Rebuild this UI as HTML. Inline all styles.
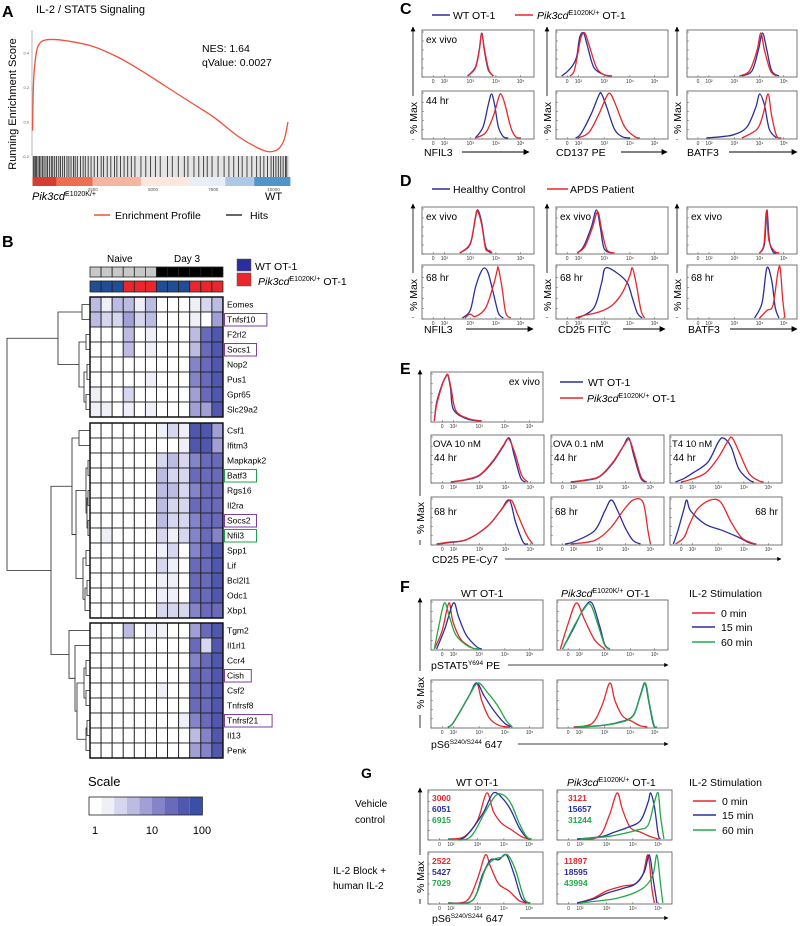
<!DOCTYPE html>
<html><head><meta charset="utf-8"><style>
body{margin:0;background:#fff}
svg{display:block;font-family:"Liberation Sans",Arial,sans-serif}
</style></head><body>
<svg id="fig" width="800" height="926" viewBox="0 0 800 926" xmlns="http://www.w3.org/2000/svg">
<defs><marker id="ah" viewBox="0 0 10 10" refX="9" refY="5" markerWidth="6" markerHeight="6" orient="auto"><path d="M0,0 L10,5 L0,10 z" fill="#000"/></marker></defs>
<!-- Panel A -->
<text x="2" y="17" font-size="16" font-weight="bold">A</text>
<text x="36" y="13" font-size="11">IL-2 / STAT5 Signaling</text>
<text transform="translate(16,104) rotate(-90)" text-anchor="middle" font-size="11">Running Enrichment Score</text>
<text x="202" y="52" font-size="10.5">NES: 1.64</text>
<text x="202" y="66" font-size="10.5">qValue: 0.0027</text>
<text x="32" y="200" font-size="11"><tspan font-style="italic">Pik3cd</tspan><tspan font-size="7" dy="-4">E1020K/+</tspan></text>
<text x="265" y="200" font-size="11">WT</text>
<line x1="94" y1="215" x2="110" y2="215" stroke="#f0503a" stroke-width="1.5"/>
<text x="115" y="219" font-size="10.5">Enrichment Profile</text>
<line x1="226" y1="215" x2="242" y2="215" stroke="#333" stroke-width="1.5"/>
<text x="250" y="219" font-size="10.5">Hits</text>
<!-- Panel B -->
<text x="2" y="247" font-size="16" font-weight="bold">B</text>
<text x="107" y="262" font-size="10">Naive</text>
<text x="174" y="262" font-size="10">Day 3</text>
<rect x="237" y="259" width="14" height="12" fill="#2b2f9e" stroke="#555" stroke-width="0.5"/>
<text x="255" y="270" font-size="10.5">WT OT-1</text>
<rect x="237" y="273" width="14" height="13" fill="#e8262b" stroke="#555" stroke-width="0.5"/>
<text x="258" y="285" font-size="10.5"><tspan font-style="italic">Pik3cd</tspan><tspan font-size="7" dy="-4">E1020K/+</tspan><tspan dy="4"> OT-1</tspan></text>
<text x="88" y="786" font-size="13">Scale</text>
<text x="95" y="834" font-size="11" text-anchor="middle">1</text>
<text x="152" y="834" font-size="11" text-anchor="middle">10</text>
<text x="202" y="834" font-size="11" text-anchor="middle">100</text>
<!-- Panel C -->
<text x="400" y="14" font-size="16" font-weight="bold">C</text>
<line x1="432" y1="15" x2="450" y2="15" stroke="#2b2f9e" stroke-width="1.5"/>
<text x="453" y="19" font-size="10.5">WT OT-1</text>
<line x1="515" y1="15" x2="533" y2="15" stroke="#e8262b" stroke-width="1.5"/>
<text x="537" y="19" font-size="10.5"><tspan font-style="italic">Pik3cd</tspan><tspan font-size="7" dy="-4">E1020K/+</tspan><tspan dy="4"> OT-1</tspan></text>
<text x="424" y="156" font-size="10.5">NFIL3</text>
<line x1="462" y1="152" x2="529" y2="152" stroke="#000" marker-end="url(#ah)"/>
<text x="556" y="156" font-size="10.5">CD137 PE</text>
<line x1="621" y1="152" x2="667" y2="152" stroke="#000" marker-end="url(#ah)"/>
<text x="687" y="156" font-size="10.5">BATF3</text>
<line x1="729" y1="152" x2="797" y2="152" stroke="#000" marker-end="url(#ah)"/>
<!-- Panel D -->
<text x="400" y="186" font-size="16" font-weight="bold">D</text>
<line x1="432" y1="189" x2="450" y2="189" stroke="#2b2f9e" stroke-width="1.5"/>
<text x="453" y="193" font-size="10.5">Healthy Control</text>
<line x1="547" y1="189" x2="568" y2="189" stroke="#e8262b" stroke-width="1.5"/>
<text x="570" y="193" font-size="10.5">APDS Patient</text>
<text x="424" y="333" font-size="10.5">NFIL3</text>
<line x1="466" y1="329" x2="533" y2="329" stroke="#000" marker-end="url(#ah)"/>
<text x="558" y="333" font-size="10.5">CD25 FITC</text>
<line x1="623" y1="329" x2="665" y2="329" stroke="#000" marker-end="url(#ah)"/>
<text x="688" y="333" font-size="10.5">BATF3</text>
<line x1="730" y1="329" x2="797" y2="329" stroke="#000" marker-end="url(#ah)"/>
<!-- Panel E -->
<text x="400" y="374" font-size="16" font-weight="bold">E</text>
<line x1="560" y1="382" x2="583" y2="382" stroke="#2b2f9e" stroke-width="1.5"/>
<text x="588" y="386" font-size="10.5">WT OT-1</text>
<line x1="560" y1="398" x2="583" y2="398" stroke="#e8262b" stroke-width="1.5"/>
<text x="587" y="402" font-size="10.5"><tspan font-style="italic">Pik3cd</tspan><tspan font-size="7" dy="-4">E1020K/+</tspan><tspan dy="4"> OT-1</tspan></text>
<text x="432" y="563" font-size="10.5">CD25 PE-Cy7</text>
<line x1="505" y1="559" x2="781" y2="559" stroke="#000" stroke-width="0.7" marker-end="url(#ah)"/>
<!-- Panel F -->
<text x="400" y="592" font-size="16" font-weight="bold">F</text>
<text x="461" y="597" font-size="10.5">WT OT-1</text>
<text x="561" y="597" font-size="10.5"><tspan font-style="italic">Pik3cd</tspan><tspan font-size="7" dy="-4">E1020K/+</tspan><tspan dy="4"> OT-1</tspan></text>
<text x="689" y="597" font-size="10.5">IL-2 Stimulation</text>
<line x1="692" y1="613" x2="715" y2="613" stroke="#e8262b" stroke-width="1.5"/>
<text x="721" y="617" font-size="10.5">0 min</text>
<line x1="692" y1="627" x2="715" y2="627" stroke="#2b2f9e" stroke-width="1.5"/>
<text x="721" y="631" font-size="10.5">15 min</text>
<line x1="692" y1="642" x2="715" y2="642" stroke="#22a84a" stroke-width="1.5"/>
<text x="721" y="646" font-size="10.5">60 min</text>
<text x="431" y="669" font-size="10.5">pSTAT5<tspan font-size="6.5" dy="-4">Y694</tspan><tspan dy="4"> PE</tspan></text>
<line x1="508" y1="665" x2="668" y2="665" stroke="#000" stroke-width="0.7" marker-end="url(#ah)"/>
<text x="431" y="748" font-size="10.5">pS6<tspan font-size="6.5" dy="-4">S240/S244</tspan><tspan dy="4"> 647</tspan></text>
<line x1="518" y1="744" x2="668" y2="744" stroke="#000" stroke-width="0.7" marker-end="url(#ah)"/>
<!-- Panel G -->
<text x="361" y="778" font-size="14" font-weight="bold">G</text>
<text x="456" y="786" font-size="10.5">WT OT-1</text>
<text x="567" y="786" font-size="10.5"><tspan font-style="italic">Pik3cd</tspan><tspan font-size="7" dy="-4">E1020K/+</tspan><tspan dy="4"> OT-1</tspan></text>
<text x="689" y="786" font-size="10.5">IL-2 Stimulation</text>
<line x1="693" y1="801" x2="716" y2="801" stroke="#e8262b" stroke-width="1.5"/>
<text x="722" y="805" font-size="10.5">0 min</text>
<line x1="693" y1="815" x2="716" y2="815" stroke="#2b2f9e" stroke-width="1.5"/>
<text x="722" y="819" font-size="10.5">15 min</text>
<line x1="693" y1="830" x2="716" y2="830" stroke="#22a84a" stroke-width="1.5"/>
<text x="722" y="834" font-size="10.5">60 min</text>
<text x="355" y="807" font-size="10">Vehicle</text>
<text x="355" y="823" font-size="10">control</text>
<text x="333" y="874" font-size="10">IL-2 Block +</text>
<text x="333" y="889" font-size="10">human IL-2</text>
<text x="432" y="922" font-size="10.5">pS6<tspan font-size="6.5" dy="-4">S240/S244</tspan><tspan dy="4"> 647</tspan></text>
<line x1="520" y1="918" x2="668" y2="918" stroke="#000" stroke-width="0.7" marker-end="url(#ah)"/>
<g id="dyn"></g>
</svg>
<script>
// ---------- DATA ----------
const esRank = [0, 40, 100, 200, 400, 800, 1500, 2500, 3500, 4500, 5500, 6500, 7500, 8500, 9200, 9700, 10000, 10250, 10450, 10600];
const esScore = [-0.05, 0.22, 0.34, 0.43, 0.47, 0.48, 0.47, 0.44, 0.38, 0.3, 0.21, 0.12, 0.03, -0.08, -0.14, -0.17, -0.17, -0.15, -0.1, 0.0];
const aTicksX = [2500, 5000, 7500, 10000];
const aTicksY = [0.4, 0.2, 0.0, -0.2];
const hitRanks = [30,70,120,170,230,290,350,420,480,560,620,700,780,840,920,1000,1090,1160,1250,1330,1430,1510,1600,1700,1770,1860,1990,2100,2190,2310,2430,2560,2700,2850,2950,3100,3250,3400,3500,3650,3800,3950,4100,4250,4500,4700,4900,5100,5300,5600,5800,6050,6300,6450,6700,6900,7100,7250,7450,7700,7950,8150,8350,8550,8700,8900,9100,9300,9450,9600,9750,9900,10000,10100,10200,10300,10400,10500,10550];
const rankBarStops = [0, 1000, 2500, 4500, 6500, 8000, 9200, 10700];
const rankBarColors = ['#d73c33', '#ee6e52', '#f6b5a0', '#fde7de', '#e6eef7', '#abc9e4', '#4f94cb'];

const genes = ['Eomes','Tnfsf10','F2rl2','Socs1','Nop2','Pus1','Gpr65','Slc29a2','Csf1','Ifitm3','Mapkapk2','Batf3','Rgs16','Il2ra','Socs2','Nfil3','Spp1','Lif','Bcl2l1','Odc1','Xbp1','Tgm2','Il1rl1','Ccr4','Cish','Csf2','Tnfrsf8','Tnfrsf21','Il13','Penk'];
const geneLevels = [
 [3,1,3,3,1,3,0,0,0,1,2,3],[3,2,2,4,2,3,0,0,0,1,0,4],[0,0,0,3,0,1,0,0,0,3,6,7],[0,0,0,3,0,1,0,0,0,3,6,7],
 [0,0,0,0,0,0,0,0,0,5,6,7],[0,0,0,0,0,1,0,0,0,5,6,7],[1,0,0,2,0,0,0,0,0,4,6,7],[1,1,0,1,0,1,0,0,0,4,4,7],
 [0,0,0,0,0,0,1,2,1,7,7,4],[0,0,0,0,0,0,0,0,1,7,7,4],[0,0,0,0,0,0,2,3,2,5,6,6],[0,0,0,0,0,0,3,2,2,6,6,6],
 [0,0,0,0,0,0,3,3,2,5,6,6],[0,0,0,0,0,0,3,2,2,6,6,6],[0,0,0,0,0,0,3,2,2,5,6,6],[0,1,0,0,0,0,2,1,2,5,6,5],
 [0,0,0,0,0,0,1,2,0,5,6,7],[0,0,0,0,0,0,2,1,0,6,6,7],[0,0,0,0,0,0,1,1,0,6,6,7],[0,0,0,0,0,0,1,1,0,6,6,7],
 [0,0,0,0,0,0,2,2,2,5,6,6],[0,0,0,3,0,1,1,0,0,4,6,7],[0,0,0,0,0,0,0,0,0,6,2,7],[0,0,0,0,0,0,0,0,0,5,6,7],
 [0,0,0,0,0,0,0,0,0,6,6,7],[0,0,0,0,0,0,1,0,0,6,6,7],[0,0,0,0,0,0,0,0,0,6,6,7],[0,0,0,0,0,0,0,0,1,5,6,7],
 [0,0,0,0,0,0,0,0,0,3,5,7],[0,0,0,0,0,0,0,0,0,4,5,7]];
const sampleTime = ['naive','naive','naive','naive','naive','naive','day3','day3','day3','day3','day3','day3'];
const sampleGeno = ['wt','wt','wt','mut','mut','mut','wt','wt','wt','mut','mut','mut'];
const boxedPurple = ['Tnfsf10','Socs1','Socs2','Cish','Tnfrsf21'];
const boxedGreen = ['Batf3','Nfil3'];
const levelColors = ['#ffffff','#efeff8','#d6d6ee','#bcbce2','#a0a0d6','#8484c8','#6a6aba','#5058ae','#3b4fa8'];

const cNfilEx = {blue:[[2.9,0],[3.2,20],[3.35,60],[3.45,100],[3.55,60],[3.7,15],[3.9,0]], red:[[2.9,0],[3.2,18],[3.35,58],[3.45,98],[3.56,60],[3.72,15],[3.9,0]]};
const cNfil44 = {blue:[[3.2,0],[3.5,25],[3.7,75],[3.83,100],[3.95,75],[4.1,25],[4.3,3],[4.5,0]], red:[[3.2,0],[3.6,12],[3.9,50],[4.1,90],[4.2,100],[4.35,80],[4.6,25],[4.8,3],[5,0]]};
const cCd137Ex = {blue:[[-0.5,0],[0,10],[1,25],[1.7,45],[2.05,90],[2.2,100],[2.35,70],[2.6,20],[3,3],[3.3,0]], red:[[0.5,0],[1.2,10],[1.8,45],[2.1,90],[2.25,100],[2.4,75],[2.7,20],[3,3],[3.3,0]]};
const cCd13744 = {blue:[[1.5,0],[2.1,10],[2.5,55],[2.8,98],[2.9,100],[3.1,70],[3.4,20],[3.7,3],[4,0]], red:[[1.8,0],[2.4,12],[2.8,55],[3.1,95],[3.25,100],[3.45,75],[3.8,25],[4.2,3],[4.4,0]]};
const cBatfEx = {blue:[[3.3,0],[3.7,12],[3.95,60],[4.12,100],[4.3,60],[4.5,12],[4.8,0]], red:[[3.2,0],[3.6,12],[3.9,60],[4.05,100],[4.2,60],[4.45,12],[4.7,0]]};
const cBatf44 = {blue:[[1.5,0],[2.5,3],[3,8],[3.5,25],[3.85,70],[4.0,100],[4.2,75],[4.4,20],[4.7,0]], red:[[3.3,0],[3.9,20],[4.15,55],[4.35,100],[4.5,50],[4.7,5],[4.9,0]]};
const dNfilEx = {blue:[[2.6,0],[3.0,20],[3.2,80],[3.3,100],[3.45,70],[3.6,15],[3.8,0]], red:[[2.6,0],[3.0,22],[3.2,82],[3.28,98],[3.45,65],[3.6,10],[3.75,6],[3.85,0]]};
const dNfil68 = {blue:[[2.7,0],[3.0,15],[3.2,60],[3.4,90],[3.55,100],[3.7,90],[3.9,50],[4.1,10],[4.3,0]], red:[[2.8,0],[3.0,8],[3.2,3],[3.6,20],[3.9,65],[4.05,95],[4.1,100],[4.25,60],[4.4,10],[4.6,0]]};
const dCd25Ex = {blue:[[1.8,0],[2.2,15],[2.5,60],[2.7,100],[2.85,60],[3.0,10],[3.3,0]], red:[[1.8,0],[2.25,15],[2.55,60],[2.75,96],[2.9,55],[3.1,8],[3.4,0]]};
const dCd2568 = {blue:[[2.0,0],[2.6,20],[2.9,70],[3.05,100],[3.5,90],[3.9,70],[4.1,40],[4.3,10],[4.5,0]], red:[[1.5,0],[2.2,5],[2.8,12],[3.3,25],[3.7,50],[4.0,85],[4.1,100],[4.25,70],[4.45,15],[4.6,0]]};
const dBatfEx = {blue:[[4.0,0],[4.2,20],[4.3,100],[4.4,30],[4.55,3],[4.7,0]], red:[[4.0,0],[4.18,20],[4.28,98],[4.38,30],[4.6,5],[4.8,0]]};
const dBatf68 = {blue:[[3.8,0],[4.1,30],[4.3,100],[4.5,75],[4.65,20],[4.8,0]], red:[[4.0,0],[4.3,15],[4.55,25],[4.75,90],[4.85,100],[4.95,40],[5.05,0]]};
const eEx = {blue:[[-0.7,0],[-0.5,40],[0,80],[0.6,95],[1,100],[1.5,70],[2,25],[2.5,5],[3,0]], red:[[-0.7,0],[-0.5,35],[0,78],[0.6,96],[1.05,100],[1.6,70],[2.1,22],[2.6,5],[3.1,0]]};
const eOva10_44 = {blue:[[1.5,0],[2.5,5],[3,15],[3.5,45],[3.9,80],[4.15,100],[4.35,60],[4.6,10],[4.8,0]], red:[[1.5,0],[2.5,6],[3,16],[3.5,47],[3.9,82],[4.12,98],[4.38,65],[4.65,15],[4.9,0]]};
const eOva01_44 = {blue:[[1.5,0],[2.5,4],[3,12],[3.5,42],[3.9,80],[4.13,100],[4.33,60],[4.6,10],[4.8,0]], red:[[1.5,0],[2.5,5],[3,13],[3.5,44],[3.9,80],[4.15,96],[4.36,62],[4.62,12],[4.85,0]]};
const eT4_44 = {blue:[[-0.5,0],[0.5,8],[2,20],[2.6,45],[3.0,90],[3.2,100],[3.5,80],[3.8,30],[4.2,5],[4.4,0]], red:[[0,0],[1.5,5],[2.5,20],[3.0,55],[3.4,95],[3.55,100],[3.8,70],[4.2,20],[4.6,3],[4.8,0]]};
const eOva10_68 = {blue:[[-0.5,0],[1,3],[2.5,10],[3.3,40],[3.8,75],[4.15,100],[4.4,50],[4.7,5],[4.9,0]], red:[[-0.5,0],[1,4],[2.5,10],[3.3,40],[3.8,75],[4.2,100],[4.5,65],[4.85,20],[5.1,0]]};
const eOva01_68 = {blue:[[0.5,0],[2,5],[2.8,30],[3.2,75],[3.45,100],[3.7,75],[4.0,35],[4.3,8],[4.6,0]], red:[[1.5,0],[2.8,8],[3.4,35],[3.9,75],[4.3,100],[4.7,95],[4.9,30],[5.0,0]]};
const eT4_68 = {blue:[[-0.7,0],[-0.3,30],[0.5,80],[1.0,100],[1.7,75],[2.5,45],[3.2,30],[3.8,15],[4.2,3],[4.5,0]], red:[[-0.5,0],[0.5,15],[1.5,45],[2.2,80],[2.7,100],[3.1,95],[3.5,50],[3.9,15],[4.3,3],[4.5,0]]};
const fStatWt = {red:[[-0.7,0],[0,40],[1.2,100],[1.9,60],[2.3,20],[2.8,0]], blue:[[-0.5,0],[0.5,45],[2.0,100],[2.2,70],[2.5,30],[2.9,5],[3.1,0]], green:[[-0.7,0],[-0.3,50],[0.4,100],[1.3,70],[2.1,30],[2.6,5],[3,0]]};
const fStatMut = {red:[[-0.7,0],[0,55],[1.5,100],[2.2,65],[2.6,20],[3,0]], blue:[[-0.5,0],[1,45],[2.2,90],[2.5,100],[2.8,50],[3.0,10],[3.2,0]], green:[[-0.5,0],[1,48],[2.2,88],[2.45,96],[2.75,50],[3.0,8],[3.2,0]]};
const fS6Wt = {red:[[1,0],[2,10],[2.6,70],[2.9,100],[3.1,60],[3.4,20],[3.8,3],[4.2,0]], blue:[[1,0],[2,10],[2.6,70],[2.9,100],[3.2,70],[3.6,35],[4,8],[4.3,0]], green:[[1,0],[2,10],[2.6,70],[2.95,100],[3.3,80],[3.7,50],[4.05,15],[4.3,0]]};
const fS6Mut = {red:[[1,0],[2.5,8],[2.9,50],[3.2,100],[3.4,60],[3.7,25],[4.1,12],[4.4,3],[4.7,0]], blue:[[1.5,0],[2.8,3],[3.5,10],[4.1,25],[4.4,70],[4.6,100],[4.75,60],[4.95,5],[5.1,0]], green:[[1.5,0],[2.8,3],[3.5,9],[4.1,24],[4.4,68],[4.62,100],[4.77,58],[4.97,5],[5.1,0]]};
const gVehWt = {red:[[1.5,0],[2.5,5],[3.0,40],[3.35,100],[3.6,60],[3.9,35],[4.3,20],[4.7,5],[5,0]], blue:[[1.5,0],[2.5,3],[3.2,55],[3.6,100],[4.0,85],[4.3,60],[4.6,25],[4.9,3],[5.1,0]], green:[[1.5,0],[2.7,3],[3.3,60],[3.7,95],[4.0,95],[4.3,75],[4.6,35],[4.9,5],[5.1,0]]};
const gVehMut = {red:[[1.5,0],[2.7,5],[3.1,50],[3.4,100],[3.6,65],[3.9,25],[4.3,15],[4.7,5],[5,0]], blue:[[1.5,0],[2.8,5],[3.3,15],[3.8,25],[4.3,40],[4.6,80],[4.7,100],[4.85,70],[5.0,10],[5.1,0]], green:[[2,0],[3,5],[3.5,10],[4.2,20],[4.6,30],[4.85,80],[5.0,100],[5.1,50],[5.25,0]]};
const gBlkWt = {red:[[1.5,0],[2.6,5],[3.0,50],[3.3,100],[3.5,75],[3.8,40],[4.2,25],[4.6,5],[4.9,0]], blue:[[1.5,0],[2.8,5],[3.2,60],[3.5,90],[3.8,90],[4.1,100],[4.4,60],[4.7,10],[5,0]], green:[[1.5,0],[2.8,5],[3.3,70],[3.6,90],[3.9,95],[4.15,100],[4.45,70],[4.8,10],[5.05,0]]};
const gBlkMut = {red:[[1.5,0],[2.5,10],[3.0,25],[3.6,35],[4.1,40],[4.4,60],[4.6,100],[4.75,30],[4.85,0]], blue:[[1.5,0],[2.5,8],[3.0,20],[3.6,30],[4.1,40],[4.45,65],[4.65,100],[4.8,50],[4.95,0]], green:[[2,0],[2.8,5],[3.4,10],[4.0,20],[4.5,35],[4.8,60],[4.95,100],[5.1,40],[5.2,0]]};
const gMfi = [['3000','6051','6915'],['3121','15657','31244'],['2522','5427','7029'],['11897','18595','43994']];
const tickDec = [0, 2, 3, 4, 5];
const tickLab = ['0', '10²', '10³', '10⁴', '10⁵'];

// ---------- DRAWING ----------
const NS = 'http://www.w3.org/2000/svg';
const root = document.getElementById('dyn');
const COL = {blue:'#2b2f9e', red:'#e8262b', green:'#22a84a'};
function mk(tag, attrs, name, parent) {
  const el = document.createElementNS(NS, tag);
  for (const k in attrs) el.setAttribute(k, attrs[k]);
  
  
  (parent || root).appendChild(el);
  return el;
}
function txt(x, y, s, size, name, extra) {
  const el = mk('text', Object.assign({x:x, y:y, 'font-size':size}, extra || {}), name);
  el.textContent = s;
  return el;
}
function smoothPath(pts){
  let d = 'M'+pts[0][0]+','+pts[0][1];
  for (let i=0;i<pts.length-1;i++){
    const p0 = pts[Math.max(0,i-1)], p1 = pts[i], p2 = pts[i+1], p3 = pts[Math.min(pts.length-1,i+2)];
    const c1x = p1[0]+(p2[0]-p0[0])/6, c1y = p1[1]+(p2[1]-p0[1])/6;
    const c2x = p2[0]-(p3[0]-p1[0])/6, c2y = p2[1]-(p3[1]-p1[1])/6;
    d += ` C${c1x},${c1y} ${c2x},${c2y} ${p2[0]},${p2[1]}`;
  }
  return d;
}
const axA = {x0:32.5, kx:0.0241, y0:122, ky:172};
function ax(r){ return axA.x0 + r*axA.kx; }
function ay(v){ return axA.y0 - v*axA.ky; }
mk('line', {x1:32, y1:30, x2:32, y2:156, stroke:'#999', 'stroke-width':0.7}, 'a-y-axis');
aTicksY.forEach(v=>{ txt(29, ay(v)+1.5, v.toFixed(1), 4, 'a-y-tick', {'text-anchor':'end', fill:'#555'}); });
aTicksX.forEach(v=>{ txt(ax(v), 191, String(v), 4.5, 'a-x-tick', {'text-anchor':'middle', fill:'#555'}); });
for (let i=0;i<rankBarColors.length;i++){
  mk('rect', {x:ax(rankBarStops[i]), y:177, width:ax(rankBarStops[i+1])-ax(rankBarStops[i]), height:9, fill:rankBarColors[i]}, 'rank-bar-segment');
}
mk('rect', {x:ax(0), y:156, width:ax(10650)-ax(0), height:21, fill:'#e4e4e4'}, 'hits-band');
hitRanks.forEach(r=>{ mk('line', {x1:ax(r), y1:156, x2:ax(r), y2:177, stroke:'#333', 'stroke-width':0.9}, 'hit-mark'); });
mk('path', {d: smoothPath(esRank.map((r,i)=>[ax(r), ay(esScore[i])])), fill:'none', stroke:'#f0503a', 'stroke-width':1.3}, 'enrichment-profile-line');

const hx0 = 90, cw = 11.08, rh = 15;
const clusterStarts = [297, 423, 623];
function rowY(i){ const c = i<8?0:(i<21?1:2); const base = c===0?0:(c===1?8:21); return clusterStarts[c] + (i-base)*rh; }
sampleTime.forEach((t,j)=>{ mk('rect', {x:hx0+j*cw, y:267, width:cw, height:10, fill: t==='naive'?'#c8c8c8':'#000', stroke:'#222', 'stroke-width':0.8}, 'sample-time-cell'); });
sampleGeno.forEach((g,j)=>{ mk('rect', {x:hx0+j*cw, y:281, width:cw, height:11, fill: g==='wt'?'#1f4e96':'#e8262b', stroke:'#222', 'stroke-width':0.8}, 'sample-genotype-cell'); });
geneLevels.forEach((row,i)=>{
  row.forEach((lv,j)=>{ mk('rect', {x:hx0+j*cw, y:rowY(i), width:cw, height:rh, fill:levelColors[lv], stroke:'#222', 'stroke-width':0.9}, 'heatmap-cell'); });
  const g = genes[i];
  txt(227, rowY(i)+10.5, g, 8.5, 'gene-label');
  if (boxedPurple.includes(g) || boxedGreen.includes(g)) {
    mk('rect', {x:224.5, y:rowY(i)+1.5, width: g.length*5.2+6, height:12.5, fill:'none', stroke: boxedPurple.includes(g)?'#7a3fa0':'#1fa04a', 'stroke-width':1}, 'gene-highlight-box');
  }
});
[[297,8],[423,13],[623,9]].forEach(([y,n])=>{ mk('rect',{x:hx0,y:y,width:cw*12,height:n*rh,fill:'none',stroke:'#111','stroke-width':1.5},'heatmap-cluster-border'); });
const c1 = [58, [82,0,1], [79,[86,2,3],[84,[87,4,5],[86,6,7]]]];
const c2 = [72,[79,8,9],[76,[86,[88,10,11],[87,[88,12,13],[88,14,15]]],[83,[86,16,17],[85,[87,18,19],20]]]];
const c3 = [69,21,[75,22,[77,[84,[86,23,24],[86,25,26]],[86,[87,27,28],29]]]];
const tree = [7, c1, [51, c2, c3]];
function drawNode(n){
  if (typeof n === 'number') return {x:hx0, y:rowY(n)+rh/2};
  const a = drawNode(n[1]), b = drawNode(n[2]);
  mk('path', {d:`M${a.x},${a.y} H${n[0]} V${b.y} H${b.x}`, fill:'none', stroke:'#222', 'stroke-width':0.8}, 'dendrogram-branch');
  return {x:n[0], y:(a.y+b.y)/2};
}
drawNode(tree);
for (let k=0;k<9;k++){ mk('rect', {x:89+k*12.6, y:797, width:12.6, height:18, fill:levelColors[k]}, 'scale-swatch'); }
mk('rect', {x:89, y:797, width:113.4, height:18, fill:'none', stroke:'#222', 'stroke-width':0.8}, 'scale-border');

const uD = [-1, 0, 2, 3, 4, 5, 5.6], uU = [0, 0.1, 0.2, 0.43, 0.66, 0.88, 1];
function uOf(d){ for (let i=0;i<uD.length-1;i++){ if (d<=uD[i+1]) return uU[i]+(d-uD[i])/(uD[i+1]-uD[i])*(uU[i+1]-uU[i]); } return 1; }
function hist(x, y, w, h, curves, name, labels){
  mk('rect', {x:x, y:y, width:w, height:h, fill:'#fff', stroke:'#555', 'stroke-width':0.8}, name+'-frame');
  for (let k=0;k<=5;k++){ mk('line',{x1:x,y1:y+h-k*(h-2)/5,x2:x+2,y2:y+h-k*(h-2)/5,stroke:'#555','stroke-width':0.5},'y-minor-tick'); }
  tickDec.forEach((d,i)=>{
    const px = x + w*uOf(d);
    mk('line',{x1:px,y1:y+h,x2:px,y2:y+h-2,stroke:'#555','stroke-width':0.5},'x-tick');
    txt(px, y+h+6, tickLab[i], 5, 'x-tick-label', {'text-anchor':'middle', fill:'#333'});
  });
  const sx = d => x + w*uOf(d);
  const sy = p => y + h - 1 - p/100*(h-4);
  Object.keys(curves).forEach(c=>{
    mk('path', {d: smoothPath(curves[c].map(p=>[sx(p[0]), sy(p[1])])), fill:'none', stroke:COL[c], 'stroke-width':1.3, 'stroke-linejoin':'round'}, name+'-'+c+'-curve');
  });
  (labels||[]).forEach(l=>{ txt(l[0], l[1], l[2], l[3]||10, name+'-label', l[4]||{}); });
}
function yArrow(x, top, bottom, textMid, name){
  mk('line',{x1:x,y1:textMid-22,x2:x,y2:top,stroke:'#000','stroke-width':0.8,'marker-end':'url(#ah)'}, name+'-arrow');
  mk('line',{x1:x,y1:textMid+22,x2:x,y2:bottom,stroke:'#000','stroke-width':0.8}, name+'-arrow-tail');
  txt(0, 0, '% Max', 10.5, name+'-title', {transform:`translate(${x+4},${textMid}) rotate(-90)`, 'text-anchor':'middle'});
}
hist(422,30,112,47,cNfilEx,'c-nfil3-exvivo',[[426,43,'ex vivo']]);
hist(422,91,112,48,cNfil44,'c-nfil3-44hr',[[426,104,'44 hr']]);
hist(556,30,112,47,cCd137Ex,'c-cd137-exvivo');
hist(556,91,112,48,cCd13744,'c-cd137-44hr');
hist(687,30,110,47,cBatfEx,'c-batf3-exvivo');
hist(687,91,110,48,cBatf44,'c-batf3-44hr');
yArrow(413,27,139,118,'c-y1'); yArrow(547,27,139,118,'c-y2'); yArrow(677,27,139,118,'c-y3');
hist(422,207,112,47,dNfilEx,'d-nfil3-exvivo',[[426,220,'ex vivo']]);
hist(422,265,112,54,dNfil68,'d-nfil3-68hr',[[426,281,'68 hr']]);
hist(556,207,112,47,dCd25Ex,'d-cd25-exvivo',[[560,220,'ex vivo']]);
hist(556,265,112,54,dCd2568,'d-cd25-68hr',[[560,281,'68 hr']]);
hist(687,207,110,47,dBatfEx,'d-batf3-exvivo',[[691,220,'ex vivo']]);
hist(687,265,110,54,dBatf68,'d-batf3-68hr',[[691,281,'68 hr']]);
yArrow(413,204,318,295,'d-y1'); yArrow(547,204,318,295,'d-y2'); yArrow(677,204,318,295,'d-y3');
hist(431,372,112,50,eEx,'e-exvivo',[[540,385,'ex vivo',10,{'text-anchor':'end'}]]);
hist(431,435,113,48,eOva10_44,'e-ova10-44hr',[[433,447,'OVA 10 nM',9.5],[434,461,'44 hr']]);
hist(551,435,113,48,eOva01_44,'e-ova01-44hr',[[553,447,'OVA 0.1 nM',9.5],[554,461,'44 hr']]);
hist(670,435,112,48,eT4_44,'e-t4-44hr',[[672,447,'T4 10 nM',9.5],[673,461,'44 hr']]);
hist(431,497,113,48,eOva10_68,'e-ova10-68hr',[[434,515,'68 hr']]);
hist(551,497,113,48,eOva01_68,'e-ova01-68hr',[[555,515,'68 hr']]);
hist(670,497,112,48,eT4_68,'e-t4-68hr',[[778,515,'68 hr',10,{'text-anchor':'end'}]]);
yArrow(420,370,545,518,'e-y');
hist(431,600,112,50,fStatWt,'f-pstat5-wt');
hist(557,600,111,50,fStatMut,'f-pstat5-mut');
hist(431,680,112,48,fS6Wt,'f-ps6-wt');
hist(557,680,111,48,fS6Mut,'f-ps6-mut');
yArrow(420,598,728,693,'f-y');
hist(428,790,115,50,gVehWt,'g-vehicle-wt');
hist(557,790,115,50,gVehMut,'g-vehicle-mut');
hist(428,852,115,52,gBlkWt,'g-block-wt');
hist(557,852,115,52,gBlkMut,'g-block-mut');
yArrow(420,788,904,877,'g-y');
const mfiPos = [[432,801],[568,801],[432,864],[564,864]];
const mfiCols = ['#e8262b','#2b2f9e','#22a84a'];
gMfi.forEach((set,i)=>{ set.forEach((v,k)=>{ txt(mfiPos[i][0], mfiPos[i][1]+k*11, v, 8.5, 'mfi-value', {fill:mfiCols[k], 'font-weight':'bold'}); }); });
</script>
</body></html>
